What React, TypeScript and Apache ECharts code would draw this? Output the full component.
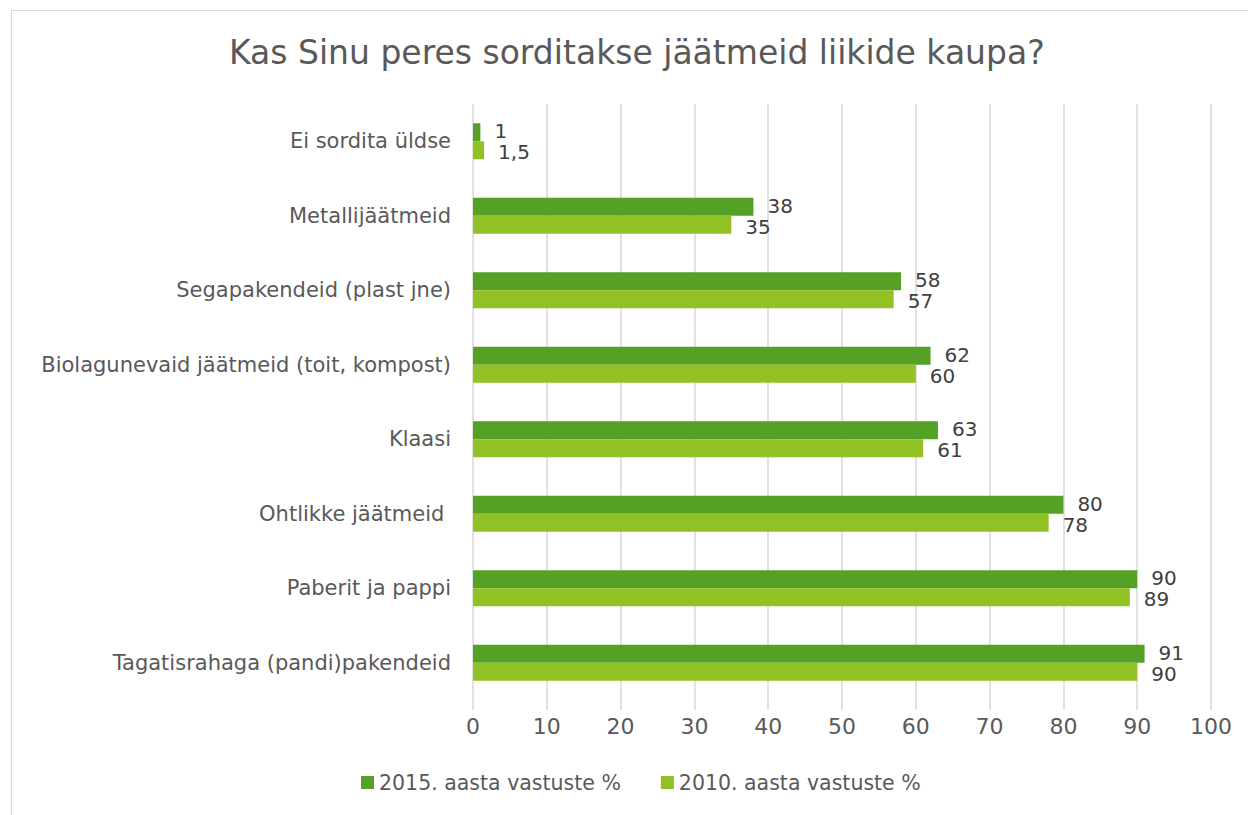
import React, { useEffect, useRef } from "react";
import * as echarts from "echarts";

const categories = [
  "Ei sordita üldse",
  "Metallijäätmeid",
  "Segapakendeid (plast jne)",
  "Biolagunevaid jäätmeid (toit, kompost)",
  "Klaasi",
  "Ohtlikke jäätmeid ",
  "Paberit ja pappi",
  "Tagatisrahaga (pandi)pakendeid",
];
const values2015 = [1, 38, 58, 62, 63, 80, 90, 91];
const values2010 = [1.5, 35, 57, 60, 61, 78, 89, 90];
const seriesNames = ["2015. aasta vastuste %", "2010. aasta vastuste %"];
const title = "Kas Sinu peres sorditakse jäätmeid liikide kaupa?";

const FONT = "DejaVu Sans";
const TEXT = "#595959";

export default function App() {
  const ref = useRef<HTMLDivElement>(null);
  useEffect(() => {
    document.body.style.margin = "0";
    const chart = echarts.init(ref.current!, null, { renderer: "svg" });
    const fmt = (p: any) => String(p.value).replace(".", ",");
    chart.setOption({
      animation: false,
      textStyle: { fontFamily: FONT },
      graphic: [
        {
          type: "rect",
          shape: { x: 11.5, y: 10.5, width: 1300, height: 900 },
          style: { fill: "none", stroke: "#d9d9d9", lineWidth: 1 },
          silent: true,
        },
      ],
      title: {
        text: title,
        left: 224,
        top: 31,
        textStyle: { fontFamily: FONT, fontSize: 33, fontWeight: "normal", color: TEXT },
      },
      legend: {
        bottom: 17,
        left: 356,
        itemWidth: 13,
        itemHeight: 13,
        itemGap: 40,
        icon: "rect",
        textStyle: { fontFamily: FONT, fontSize: 20.5, color: TEXT },
        data: seriesNames,
      },
      grid: { left: 473, right: 37, top: 104, bottom: 115, containLabel: false },
      xAxis: {
        type: "value",
        min: 0,
        max: 100,
        interval: 10,
        axisLine: { show: false },
        axisTick: { show: true, length: 10, lineStyle: { color: "#d9d9d9", width: 1.5 } },
        splitLine: { show: true, lineStyle: { color: "#d9d9d9", width: 1.5 } },
        axisLabel: { fontFamily: FONT, fontSize: 22, color: TEXT, margin: 15 },
      },
      yAxis: {
        type: "category",
        inverse: true,
        data: categories,
        axisLine: { show: false },
        axisTick: { show: false },
        axisLabel: { fontFamily: FONT, fontSize: 21, color: TEXT, margin: 22 },
      },
      series: [
        {
          name: seriesNames[0],
          type: "bar",
          data: values2015,
          barWidth: 18,
          barGap: "0%",
          itemStyle: { color: "#55a125" },
          label: {
            show: true,
            position: "right",
            distance: 14,
            offset: [0, -1],
            formatter: fmt,
            fontFamily: FONT,
            fontSize: 20,
            lineHeight: 20,
            color: "#404040",
          },
        },
        {
          name: seriesNames[1],
          type: "bar",
          data: values2010,
          barWidth: 18,
          barGap: "0%",
          itemStyle: { color: "#92c126" },
          label: {
            show: true,
            position: "right",
            distance: 14,
            offset: [0, 2],
            formatter: fmt,
            fontFamily: FONT,
            fontSize: 20,
            lineHeight: 20,
            color: "#404040",
          },
        },
      ],
    });
    return () => chart.dispose();
  }, []);
  return <div ref={ref} style={{ width: 1248, height: 815 }} />;
}
